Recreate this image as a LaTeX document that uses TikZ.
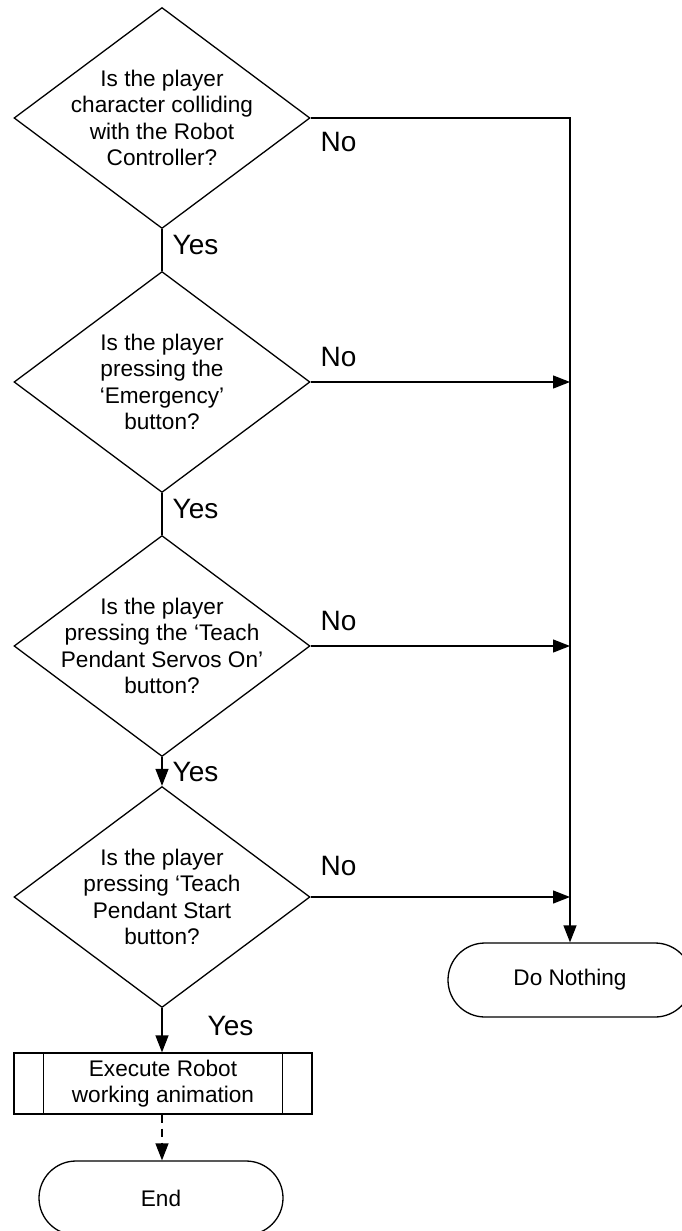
\documentclass[tikz,border=0pt]{standalone}
\usepackage{fontspec}
\setmainfont{Liberation Sans}
\usetikzlibrary{arrows.meta,shapes.geometric,shapes.misc}
\begin{document}
\begin{tikzpicture}[x=1pt,y=-1pt,
  line width=1.3pt,
  dia/.style={shape=diamond,draw,inner sep=0pt,minimum width=296pt,minimum height=221pt},
  txt/.style={align=center,inner sep=0pt,font=\fontsize{22.6}{26.3}\selectfont},
  lab/.style={inner sep=0pt,anchor=west,font=\fontsize{28}{32}\selectfont},
  term/.style={shape=rounded rectangle,draw,inner sep=0pt,minimum width=244pt,minimum height=74pt,font=\fontsize{22.6}{26.3}\selectfont},
  procbox/.style={draw,inner sep=0pt,minimum width=298pt,minimum height=61pt,align=center,font=\fontsize{22.6}{26.3}\selectfont},
  arr/.style={-{Triangle[length=17pt,width=13pt]}},
  plain/.style={-}
]
\useasboundingbox (0,0) rectangle (681,1231);

% decisions
\node[dia] (d1) at (162,118) {};
\node[txt] (t1) at (d1) {Is the player\\character colliding\\with the Robot\\Controller?};
\node[dia] (d2) at (162,382) {};
\node[txt] (t2) at (d2) {Is the player\\pressing the\\‘Emergency’\\button?};
\node[dia] (d3) at (162,646) {};
\node[txt] (t3) at (d3) {Is the player\\pressing the ‘Teach\\Pendant Servos On’\\button?};
\node[dia] (d4) at (162,897) {};
\node[txt] (t4) at (d4) {Is the player\\pressing ‘Teach\\Pendant Start\\button?};

% process
\node[procbox] (pb) at (163,1083.5) {Execute Robot\\working animation};
\draw ([xshift=30pt]pb.north west) -- ([xshift=30pt]pb.south west);
\draw ([xshift=-30pt]pb.north east) -- ([xshift=-30pt]pb.south east);

% terminals
\node[term] (en) at (161,1198) {End};
\node[term] (dn) at (570,980) {Do Nothing};

% junction coordinates
\coordinate (j1) at (570,118);
\coordinate (j2) at (570,382);
\coordinate (j3) at (570,646);
\coordinate (j4) at (570,897);

% Yes connectors
\draw[plain] (d1.south) -- (d2.north);
\draw[plain] (d2.south) -- (d3.north);
\draw[arr] (d3.south) -- (d4.north);
\draw[arr] (d4.south) -- (d4.south |- pb.north);
\draw[arr,dashed,dash pattern=on 8pt off 6pt] (pb.south -| d4.south) -- (en.north -| d4.south);

% No connectors
\draw[arr] (d1.east) -- (j1) -- (dn.north);
\draw[arr] (d2.east) -- (j2);
\draw[arr] (d3.east) -- (j3);
\draw[arr] (d4.east) -- (j4);

% labels
\node[lab] (y1) at (172,245) {Yes};
\node[lab] (y2) at (172,509) {Yes};
\node[lab] (y3) at (172,772) {Yes};
\node[lab] (y4) at (207,1026) {Yes};
\node[lab] (n1) at (320,142) {No};
\node[lab] (n2) at (320,357) {No};
\node[lab] (n3) at (320,621) {No};
\node[lab] (n4) at (320,866) {No};
\end{tikzpicture}
\end{document}
